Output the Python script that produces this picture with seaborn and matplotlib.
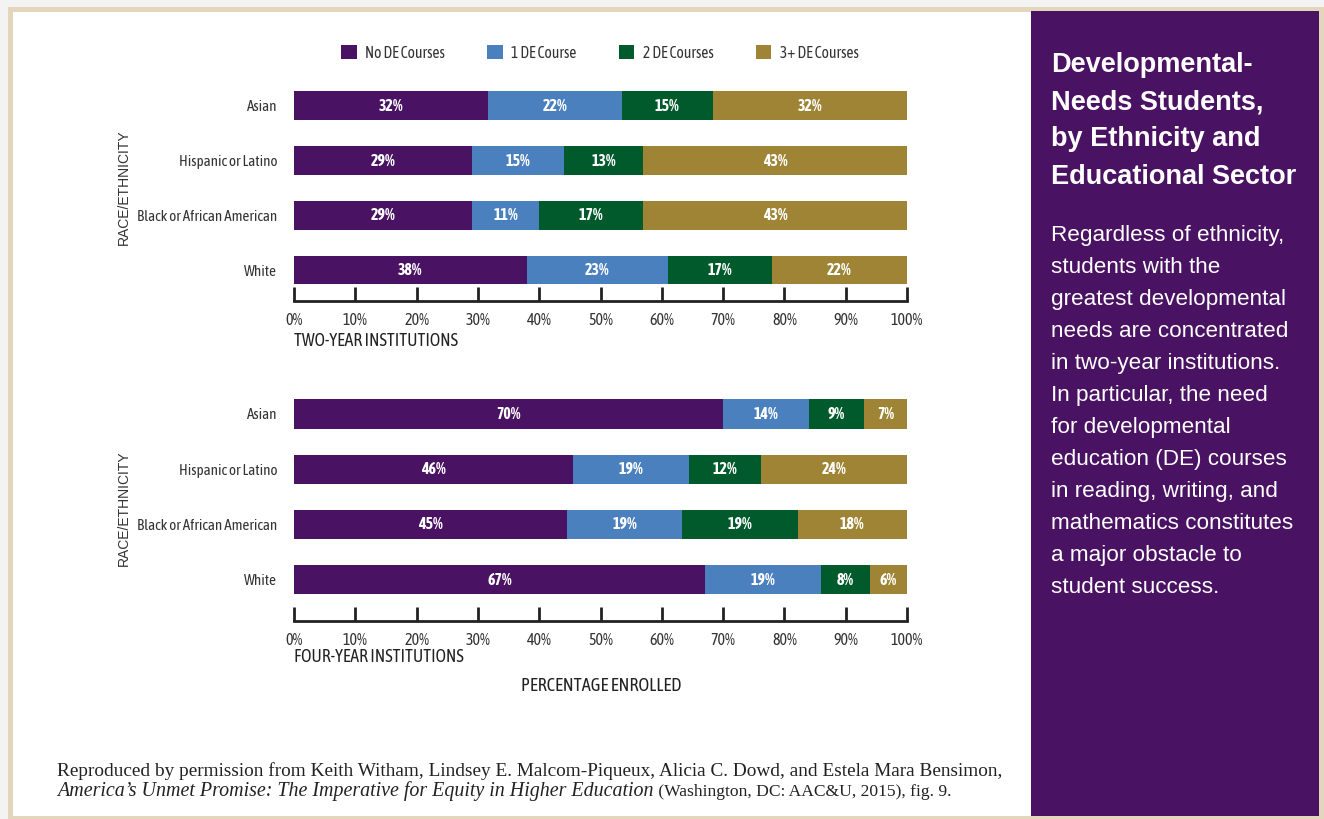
import numpy as np
import pandas as pd
import seaborn as sns
import matplotlib
matplotlib.use("Agg")
import matplotlib.pyplot as plt
from matplotlib.patches import Rectangle, Patch
from matplotlib import font_manager

# ---------------- data ----------------
categories = ["Asian", "Hispanic or Latino", "Black or African American", "White"]
series = ["No DE Courses", "1 DE Course", "2 DE Courses", "3+ DE Courses"]

two_year_none = [32, 29, 29, 38]
two_year_one = [22, 15, 11, 23]
two_year_two = [15, 13, 17, 17]
two_year_three_plus = [32, 43, 43, 22]

four_year_none = [70, 46, 45, 67]
four_year_one = [14, 19, 19, 19]
four_year_two = [9, 12, 19, 8]
four_year_three_plus = [7, 24, 18, 6]

tick_values = [0, 10, 20, 30, 40, 50, 60, 70, 80, 90, 100]
tick_labels = [f"{v}%" for v in tick_values]

panel_titles = ["TWO-YEAR INSTITUTIONS", "FOUR-YEAR INSTITUTIONS"]
sidebar_title = ["Developmental-", "Needs Students,", "by Ethnicity and", "Educational Sector"]
sidebar_body = ["Regardless of ethnicity,", "students with the", "greatest developmental",
                "needs are concentrated", "in two-year institutions.", "In particular, the need",
                "for developmental", "education (DE) courses", "in reading, writing, and",
                "mathematics constitutes", "a major obstacle to", "student success."]
footer_line1 = ("Reproduced by permission from Keith Witham, Lindsey E. Malcom-Piqueux, "
                "Alicia C. Dowd, and Estela Mara Bensimon,")
footer_line2_italic = "America\u2019s Unmet Promise: The Imperative for Equity in Higher Education"
footer_line2_rest = " (Washington, DC: AAC&U, 2015), fig. 9."

# ---------------- style ----------------
colors = ["#4a1263", "#4b80bf", "#005a2b", "#9e8434"]
sidebar_color = "#4a1262"
beige = "#e3d6bd"
text_dark = "#333333"

sns.set_theme(style="white")

# pick a condensed sans if one is installed (prefer one that has a bold face)
entries = font_manager.fontManager.ttflist
cands = {}
for f in entries:
    if "Narrow" in f.name or "Condensed" in f.name:
        w = f.weight if isinstance(f.weight, (int, float)) else \
            font_manager.weight_dict.get(str(f.weight), 400)
        cands.setdefault(f.name, set()).add(int(w))
COND, STRETCH, SCALE = "Liberation Sans", "normal", 0.84
if cands:
    def score(item):
        name, ws = item
        s = 0
        if any(w >= 600 for w in ws):
            s += 10
        if any(380 <= w <= 450 for w in ws):
            s += 5
        for bad in ("Light", "Thin", "Medium", "Black", "Semi", "Extra"):
            if bad in name:
                s -= 3
        return s
    COND = sorted(cands.items(), key=score, reverse=True)[0][0]
    SCALE = 1.0

SANS = "Liberation Sans"
SERIF = "Liberation Serif"
plt.rcParams["font.family"] = [SANS, "DejaVu Sans"]


def cond(size, **kw):
    d = dict(family=COND, fontstretch=STRETCH, fontsize=size * SCALE)
    d.update(kw)
    return d


W, H = 1324, 819
fig = plt.figure(figsize=(W / 100, H / 100), dpi=100, facecolor="#f3f3f3")


def fx(px):
    return px / W


def fy(py):
    return 1 - py / H


# frame, white panel, sidebar
fig.patches.append(Rectangle((fx(8), 0), 1, fy(7), transform=fig.transFigure,
                             facecolor=beige, edgecolor="none", zorder=-3))
fig.patches.append(Rectangle((fx(13), fy(816)), fx(1031 - 13), fy(12) - fy(816),
                             transform=fig.transFigure, facecolor="white",
                             edgecolor="none", zorder=-2))
fig.patches.append(Rectangle((fx(1031), fy(816)), fx(1319 - 1031), fy(11) - fy(816),
                             transform=fig.transFigure, facecolor=sidebar_color,
                             edgecolor="none", zorder=-2))


def draw_panel(ax, values, ylim, title, title_y):
    df = pd.DataFrame(dict(zip(series, values)), index=categories)
    share = df.div(df.sum(axis=1), axis=0) * 100
    cum = share.cumsum(axis=1)
    for i in reversed(range(len(series))):
        sns.barplot(x=cum.iloc[:, i].values, y=categories, orient="h",
                    color=colors[i], saturation=1, width=0.53, errorbar=None,
                    linewidth=0, ax=ax)
    for r in range(len(categories)):
        for i in range(len(series)):
            center = cum.iloc[r, i] - share.iloc[r, i] / 2
            ax.text(center, r, f"{df.iloc[r, i]}%", ha="center", va="center",
                    color="white", fontweight="bold", **cond(11.3))
    ax.set_xlim(0, 100)
    ax.set_ylim(*ylim)
    ax.set_xlabel("")
    ax.set_ylabel("")
    for s in ["top", "right", "left"]:
        ax.spines[s].set_visible(False)
    ax.spines["bottom"].set_linewidth(2)
    ax.spines["bottom"].set_color("#222222")
    ax.set_xticks(tick_values)
    ax.set_xticklabels(tick_labels, color=text_dark, **cond(11.5))
    ax.tick_params(axis="x", direction="in", length=10, width=2, color="#222222",
                   pad=8, bottom=True)
    ax.tick_params(axis="y", length=0, pad=12)
    ax.set_yticks(range(len(categories)))
    ax.set_yticklabels(categories, color=text_dark, **cond(10.8))
    ax.text(0, title_y, title, transform=ax.get_xaxis_transform(), ha="left",
            va="center", color="#222222", **cond(12.7))


ax1 = fig.add_axes([fx(294), fy(301), fx(907 - 294), fy(88) - fy(301)])
ax1.set_facecolor("none")
draw_panel(ax1, [two_year_none, two_year_one, two_year_two, two_year_three_plus],
           (3.567, -0.329), panel_titles[0], -(341 - 301) / (301 - 88))

ax2 = fig.add_axes([fx(294), fy(621), fx(907 - 294), fy(396) - fy(621)])
ax2.set_facecolor("none")
draw_panel(ax2, [four_year_none, four_year_one, four_year_two, four_year_three_plus],
           (3.752, -0.326), panel_titles[1], -(657 - 621) / (621 - 396))

# y-axis labels
for yc in (187, 508):
    fig.text(fx(124), fy(yc), "RACE/ETHNICITY", rotation=90, ha="center", va="center",
             fontsize=10, color=text_dark, family=SANS)

fig.text(fx(601), fy(686), "PERCENTAGE ENROLLED", ha="center", va="center",
         color="#222222", **cond(13.2))

# legend
handles = [Patch(facecolor=c, edgecolor="none", label=s) for c, s in zip(colors, series)]
fig.legend(handles=handles, loc="center", bbox_to_anchor=(fx(600), fy(53)), ncol=4,
           frameon=False, handlelength=1.0, handleheight=1.0, handletextpad=0.55,
           columnspacing=2.7,
           prop=font_manager.FontProperties(family=COND, stretch=STRETCH,
                                            size=11.2 * SCALE),
           labelcolor=text_dark)

# sidebar
for k, line in enumerate(sidebar_title):
    fig.text(fx(1051), fy(71.5 + 37.5 * k), line, ha="left", va="baseline",
             color="white", fontsize=19.5, fontweight="bold", family=SANS)
for k, line in enumerate(sidebar_body):
    fig.text(fx(1051), fy(241 + 32 * k), line, ha="left", va="baseline",
             color="white", fontsize=16.2, family=SANS)

# footer
FS = 13.9
fig.text(fx(57), fy(776), footer_line1, ha="left", va="baseline", family=SERIF,
         fontsize=FS, color="#222222")
t_it = fig.text(fx(57), fy(796), footer_line2_italic, ha="left", va="baseline",
                family=SERIF, fontstyle="italic", fontsize=14.4, color="#222222")
renderer = fig.canvas.get_renderer()
bb = t_it.get_window_extent(renderer=renderer)
fig.text(bb.x1 / fig.dpi / fig.get_figwidth(), fy(796), footer_line2_rest, ha="left",
         va="baseline", family=SERIF, fontsize=12.6, color="#222222")

fig.savefig("out.png", dpi=100, facecolor=fig.get_facecolor())
